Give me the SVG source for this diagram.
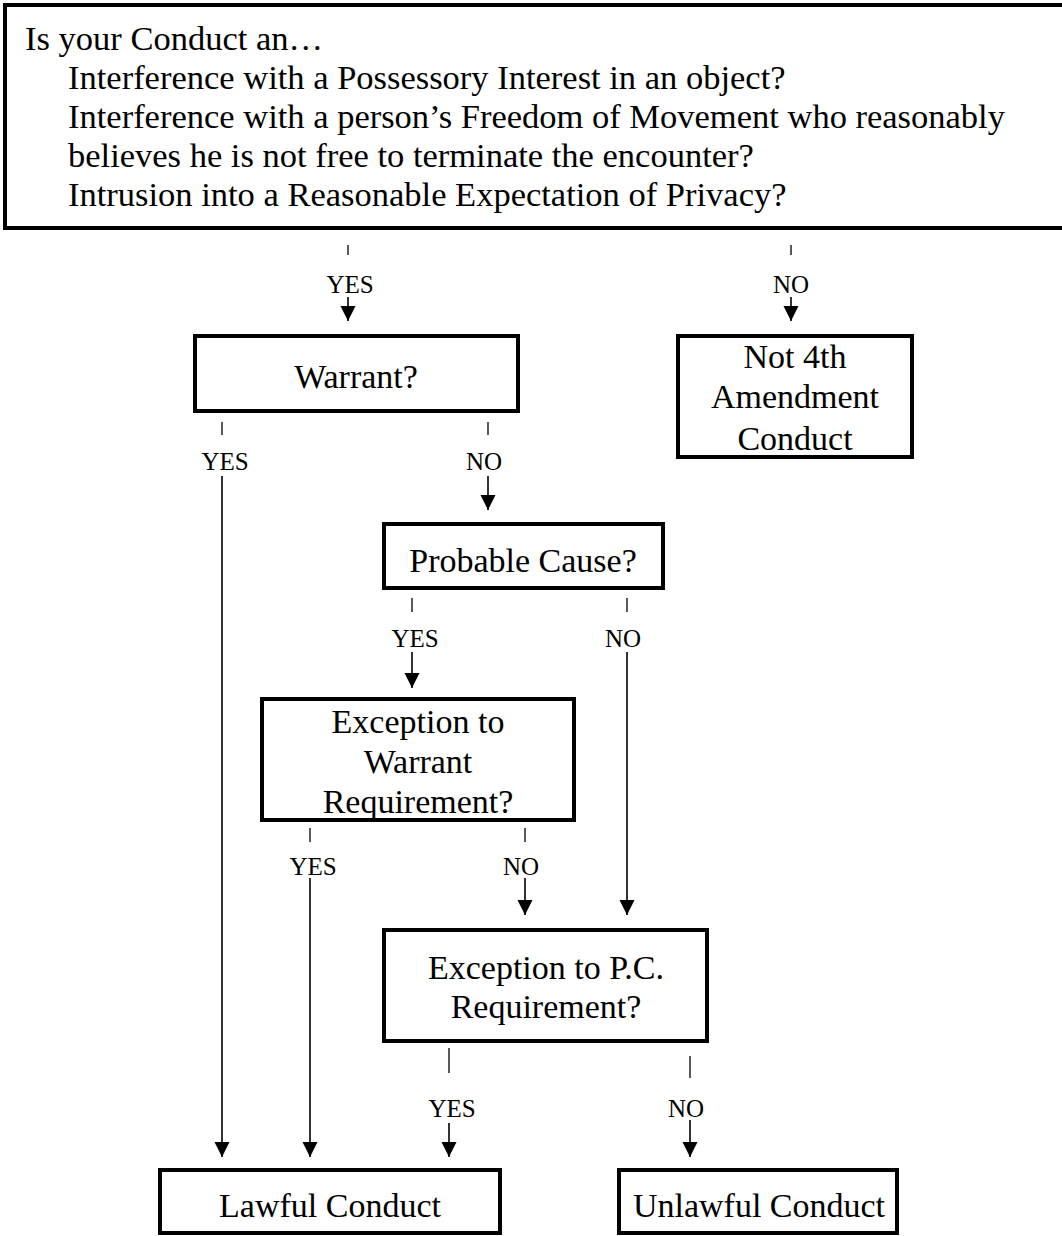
<svg xmlns="http://www.w3.org/2000/svg" width="1062" height="1236" viewBox="0 0 1062 1236">
<style>
text{font-family:"Liberation Serif","Times New Roman",serif;fill:#000}
.box{fill:#fff;stroke:#000;stroke-width:4}
.node{font-size:34px;text-anchor:middle}
.q{font-size:34.5px}
.lbl{font-size:25px;text-anchor:middle}
.tick{stroke:#000;stroke-width:1.3}
.edge{stroke:#000;stroke-width:1.6;fill:none;marker-end:url(#ah)}
</style>
<defs>
<marker id="ah" markerUnits="userSpaceOnUse" markerWidth="16" markerHeight="16" refX="15" refY="7.5" orient="auto">
<path d="M0,0 L15,7.5 L0,15 z" fill="#000"/>
</marker>
</defs>
<rect width="1062" height="1236" fill="#fff"/>

<g id="question">
<rect class="box" x="5" y="5" width="1070" height="223"/>
<text class="q" x="25" y="50">Is your Conduct an…</text>
<text class="q" x="68" y="89">Interference with a Possessory Interest in an object?</text>
<text class="q" x="68" y="128">Interference with a person’s Freedom of Movement who reasonably</text>
<text class="q" x="68" y="167">believes he is not free to terminate the encounter?</text>
<text class="q" x="68" y="206">Intrusion into a Reasonable Expectation of Privacy?</text>
</g>

<g id="warrant">
<rect class="box" x="195" y="336" width="323" height="75"/>
<text class="node" x="356" y="388">Warrant?</text>
</g>

<g id="not4th">
<rect class="box" x="678" y="336" width="234" height="121"/>
<text class="node" x="795" y="368">Not 4th</text>
<text class="node" x="795" y="408">Amendment</text>
<text class="node" x="795" y="450">Conduct</text>
</g>

<g id="probable">
<rect class="box" x="384" y="524" width="279" height="64"/>
<text class="node" x="523" y="572">Probable Cause?</text>
</g>

<g id="excwarrant">
<rect class="box" x="262" y="699" width="312" height="121"/>
<text class="node" x="418" y="733">Exception to</text>
<text class="node" x="418" y="773">Warrant</text>
<text class="node" x="418" y="813">Requirement?</text>
</g>

<g id="excpc">
<rect class="box" x="384" y="930" width="323" height="111"/>
<text class="node" x="546" y="979">Exception to P.C.</text>
<text class="node" x="546" y="1018">Requirement?</text>
</g>

<g id="lawful">
<rect class="box" x="160" y="1170" width="340" height="63"/>
<text class="node" x="330" y="1217">Lawful Conduct</text>
</g>

<g id="unlawful">
<rect class="box" x="619" y="1170" width="278" height="63"/>
<text class="node" x="759" y="1217">Unlawful Conduct</text>
</g>

<g id="connectors">
<line class="tick" x1="348" y1="245" x2="348" y2="255"/>
<text class="lbl" x="350" y="293">YES</text>
<line class="edge" x1="348" y1="297" x2="348" y2="321"/>

<line class="tick" x1="791" y1="245" x2="791" y2="255"/>
<text class="lbl" x="791" y="293">NO</text>
<line class="edge" x1="791" y1="297" x2="791" y2="321"/>

<line class="tick" x1="222" y1="422" x2="222" y2="435"/>
<text class="lbl" x="225" y="470">YES</text>
<line class="edge" x1="222" y1="476" x2="222" y2="1157"/>

<line class="tick" x1="488" y1="422" x2="488" y2="435"/>
<text class="lbl" x="484" y="470">NO</text>
<line class="edge" x1="488" y1="476" x2="488" y2="510"/>

<line class="tick" x1="412" y1="598" x2="412" y2="612"/>
<text class="lbl" x="415" y="647">YES</text>
<line class="edge" x1="412" y1="652" x2="412" y2="688"/>

<line class="tick" x1="627" y1="598" x2="627" y2="612"/>
<text class="lbl" x="623" y="647">NO</text>
<line class="edge" x1="627" y1="652" x2="627" y2="915"/>

<line class="tick" x1="310" y1="828" x2="310" y2="842"/>
<text class="lbl" x="313" y="875">YES</text>
<line class="edge" x1="310" y1="878" x2="310" y2="1157"/>

<line class="tick" x1="525" y1="828" x2="525" y2="842"/>
<text class="lbl" x="521" y="875">NO</text>
<line class="edge" x1="525" y1="878" x2="525" y2="915"/>

<line class="tick" x1="449" y1="1048" x2="449" y2="1073"/>
<text class="lbl" x="452" y="1117">YES</text>
<line class="edge" x1="449" y1="1123" x2="449" y2="1157"/>

<line class="tick" x1="690" y1="1056" x2="690" y2="1078"/>
<text class="lbl" x="686" y="1117">NO</text>
<line class="edge" x1="690" y1="1120" x2="690" y2="1157"/>
</g>
</svg>
